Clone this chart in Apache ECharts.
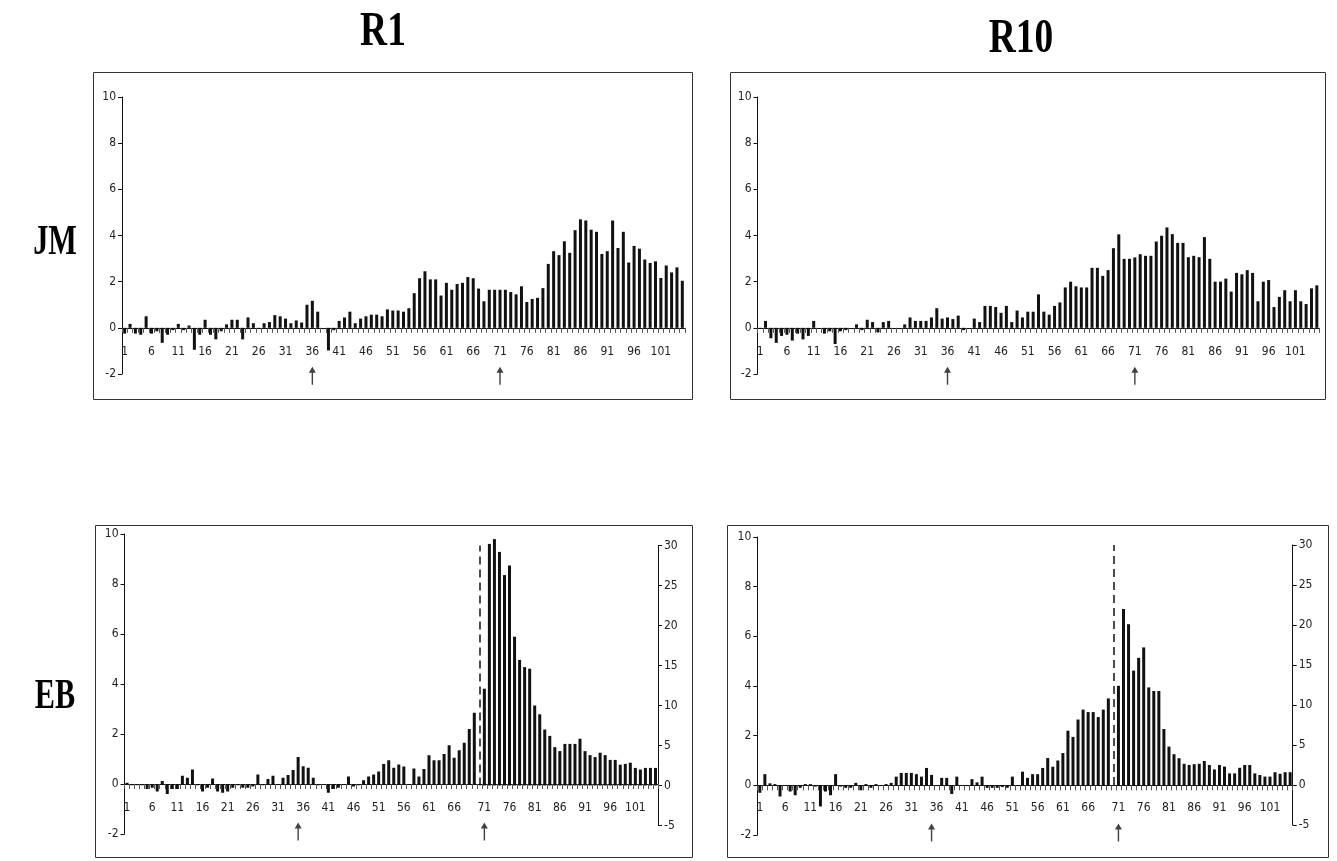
<!DOCTYPE html>
<html><head><meta charset="utf-8">
<script src="https://cdn.jsdelivr.net/npm/echarts@6/dist/echarts.min.js"></script>
<style>html,body{margin:0;padding:0;background:#fff}#c{width:1337px;height:861px}</style>
</head><body><div id="c"></div>
<script>
// ---------- data ----------
const categories = ['1','2','3','4','5','6','7','8','9','10','11','12','13','14','15','16','17','18','19','20','21','22','23','24','25','26','27','28','29','30','31','32','33','34','35','36','37','38','39','40','41','42','43','44','45','46','47','48','49','50','51','52','53','54','55','56','57','58','59','60','61','62','63','64','65','66','67','68','69','70','71','72','73','74','75','76','77','78','79','80','81','82','83','84','85','86','87','88','89','90','91','92','93','94','95','96','97','98','99','100','101','102','103','104','105'];
const colTitles = ['R1','R10'];
const rowTitles = ['JM','EB'];
const leftTicks = [-2, 10, 2];   // min, max, step
const rightTicks = [-5, 30, 5];

const jmR1 = [-0.25,0.17,-0.25,-0.3,0.5,-0.25,-0.15,-0.65,-0.3,-0.1,0.17,-0.1,0.1,-0.95,-0.3,0.35,-0.3,-0.5,-0.15,0.15,
0.35,0.35,-0.5,0.45,0.2,-0.05,0.2,0.25,0.55,0.5,0.4,0.2,0.32,0.23,1.0,1.17,0.7,0,-0.98,-0.1,
0.3,0.45,0.7,0.2,0.4,0.5,0.57,0.57,0.5,0.8,0.75,0.75,0.7,0.85,1.5,2.15,2.45,2.1,2.1,1.4,
1.95,1.65,1.9,1.95,2.2,2.15,1.7,1.15,1.65,1.65,1.65,1.65,1.55,1.45,1.8,1.12,1.25,1.3,1.72,2.77,
3.32,3.15,3.75,3.25,4.23,4.7,4.65,4.25,4.16,3.2,3.32,4.65,3.46,4.16,2.83,3.55,3.43,2.96,2.81,2.88,
2.16,2.7,2.4,2.62,2.04];

const jmR10 = [-0.05,0.3,-0.45,-0.65,-0.35,-0.3,-0.55,-0.25,-0.5,-0.35,0.3,0,-0.25,-0.15,-0.7,-0.15,-0.1,0,0.15,-0.1,
0.35,0.25,-0.2,0.25,0.3,0,0,0.15,0.45,0.3,0.3,0.3,0.45,0.85,0.4,0.45,0.38,0.53,-0.1,0,
0.4,0.25,0.95,0.95,0.9,0.65,0.95,0.25,0.75,0.45,0.7,0.7,1.45,0.7,0.57,0.95,1.1,1.75,2.0,1.8,
1.75,1.75,2.6,2.6,2.25,2.5,3.45,4.05,2.99,2.99,3.05,3.19,3.12,3.12,3.74,3.99,4.35,4.06,3.68,3.68,
3.06,3.12,3.06,3.93,2.99,2.0,2.0,2.13,1.57,2.38,2.32,2.5,2.38,1.15,2.0,2.07,0.9,1.34,1.63,1.15,
1.63,1.15,1.03,1.71,1.84];

// EB: categories 1-70 on the left axis, 71-105 on the right axis
const ebR1Left = [0.05,-0.05,-0.05,-0.05,-0.2,-0.15,-0.3,0.12,-0.4,-0.2,-0.2,0.33,0.25,0.58,-0.05,-0.3,-0.15,0.22,-0.3,-0.35,
-0.3,-0.15,-0.05,-0.15,-0.15,-0.1,0.38,-0.05,0.2,0.33,0,0.25,0.36,0.56,1.08,0.71,0.65,0.25,-0.05,0,
-0.35,-0.2,-0.15,0,0.3,-0.1,-0.05,0.15,0.3,0.38,0.5,0.8,0.95,0.65,0.78,0.7,0,0.62,0.3,0.6,
1.15,0.95,0.95,1.2,1.55,1.05,1.35,1.65,2.2,2.85];
const ebR1Right = [12.1,30.2,30.8,29.2,26.3,27.5,18.6,15.7,14.8,14.6,10.0,8.9,7.0,6.2,4.8,4.3,5.2,5.2,5.2,5.85,
4.3,3.8,3.55,4.1,3.8,3.2,3.2,2.6,2.7,2.85,2.2,2.0,2.2,2.2,2.2];

const ebR10Left = [-0.3,0.45,0.08,0.05,-0.45,0,-0.25,-0.4,-0.1,0.05,0.05,-0.05,-0.85,-0.25,-0.4,0.45,-0.05,-0.1,-0.1,0.1,
-0.2,0.05,-0.1,0.05,0,0.05,0.1,0.35,0.5,0.5,0.5,0.45,0.35,0.7,0.42,0,0.3,0.3,-0.35,0.35,
0,-0.03,0.25,0.12,0.35,-0.1,-0.1,-0.1,-0.07,-0.1,0.35,0,0.55,0.3,0.45,0.45,0.7,1.1,0.75,1.0,
1.3,2.2,1.95,2.65,3.05,2.95,2.95,2.75,3.05,3.5];
const ebR10Right = [12.4,22.0,20.1,14.3,15.9,17.2,12.2,11.75,11.75,7.0,4.8,3.85,3.35,2.65,2.5,2.6,2.65,3.0,2.5,1.95,
2.5,2.3,1.45,1.45,2.15,2.5,2.5,1.45,1.25,1.05,1.05,1.6,1.4,1.6,1.6];

const arrowCatsJM = ['36','71'];
const arrowCatsEB = ['35','71'];
const arrowLevelJM = -2.08;
const arrowLevelEB = -1.9;
const splitAfter = '70';   // dashed separator slot sits after this category

// ---------- build ----------
const splitIdx = categories.indexOf(splitAfter) + 1;
const ebCats = [...categories.slice(0, splitIdx), '', ...categories.slice(splitIdx)];
const nEB = ebCats.length;
const padR = (arr) => arr.concat(new Array(nEB - arr.length).fill('-'));
const padL = (arr) => new Array(nEB - arr.length).fill('-').concat(arr);

const labelFont = "'Liberation Sans Narrow','Arial Narrow','DejaVu Sans Condensed','Liberation Sans',sans-serif";
const titleFont = "'Liberation Serif','Times New Roman',serif";
const ink = '#111';

const grids = [
  {left:122, top:97, width:563, height:277},
  {left:757.5, top:97, width:562, height:277},
  {left:124.5, top:534, width:533.5, height:300},
  {left:124.5, top:545.5, width:533.5, height:280},
  {left:757.3, top:537, width:535.4, height:298},
  {left:757.3, top:545, width:535.4, height:280}
];

function xAx(gi, data, show, ebStyle, lblMargin) {
  return {
    type:'category', gridIndex:gi, data:data, show:show,
    axisLine:{onZero:true, lineStyle:{color:ink, width:1}},
    axisTick:{show:true, interval:0, length:5, lineStyle:{color:'#555'}},
    axisLabel:{
      interval: ebStyle ? function(i, v){ return v !== '' && (parseInt(v,10)-1) % 5 === 0; } : 4,
      margin:lblMargin, fontSize:12, color:'#222', fontFamily:labelFont
    },
    splitLine:{show:false}
  };
}
function yAx(gi, ticks, pos) {
  return {
    type:'value', gridIndex:gi, position:pos, min:ticks[0], max:ticks[1], interval:ticks[2],
    axisLine:{show:true, lineStyle:{color:ink, width:1}},
    axisTick:{show:true, length:4, lineStyle:{color:ink}},
    axisLabel:{fontSize:12, color:'#222', fontFamily:labelFont, margin:6},
    splitLine:{show:false}
  };
}

const barBase = {type:'bar', barWidth:3, itemStyle:{color:ink}, silent:true, animation:false, clip:false};
const arrowSym = 'path://M5 0 L10 8 L6 8 L6 24 L4 24 L4 8 L0 8 Z';
function arrows(gi, cats, level) {
  return {type:'scatter', xAxisIndex:gi, yAxisIndex:gi, clip:false, silent:true,
    symbol:arrowSym, symbolSize:[7,18], itemStyle:{color:ink},
    data: cats.map(c => [c, level])};
}
function sepLine() {
  return {silent:true, symbol:['none','none'], label:{show:false},
    lineStyle:{color:ink, type:[8,5], width:1.5},
    data:[[{coord:[splitIdx, 0]}, {coord:[splitIdx, rightTicks[1]]}]]};
}
function title(txt, x, y, size, sx) {
  return {type:'text', x:x, y:y, scaleX:sx, silent:true,
    style:{text:txt, fill:'#000', font:'bold ' + size + 'px ' + titleFont,
      align:'center', verticalAlign:'middle', textAlign:'center', textVerticalAlign:'middle'}};
}

const option = {
  animation:false,
  backgroundColor:'#fff',
  grid: grids,
  xAxis: [
    xAx(0, categories, true, false, -28),
    xAx(1, categories, true, false, -28),
    xAx(2, ebCats, true, true, -32),
    xAx(3, ebCats, false, true, 0),
    xAx(4, ebCats, true, true, -33),
    xAx(5, ebCats, false, true, 0)
  ],
  yAxis: [
    yAx(0, leftTicks, 'left'),
    yAx(1, leftTicks, 'left'),
    yAx(2, leftTicks, 'left'),
    yAx(3, rightTicks, 'right'),
    yAx(4, leftTicks, 'left'),
    yAx(5, rightTicks, 'right')
  ],
  series: [
    Object.assign({}, barBase, {xAxisIndex:0, yAxisIndex:0, data:jmR1}),
    Object.assign({}, barBase, {xAxisIndex:1, yAxisIndex:1, data:jmR10}),
    Object.assign({}, barBase, {xAxisIndex:2, yAxisIndex:2, data:padR(ebR1Left)}),
    Object.assign({}, barBase, {xAxisIndex:3, yAxisIndex:3, data:padL(ebR1Right), markLine:sepLine()}),
    Object.assign({}, barBase, {xAxisIndex:4, yAxisIndex:4, data:padR(ebR10Left)}),
    Object.assign({}, barBase, {xAxisIndex:5, yAxisIndex:5, data:padL(ebR10Right), markLine:sepLine()}),
    arrows(0, arrowCatsJM, arrowLevelJM),
    arrows(1, arrowCatsJM, arrowLevelJM),
    arrows(2, arrowCatsEB, arrowLevelEB),
    arrows(4, arrowCatsEB, arrowLevelEB)
  ],
  graphic: [
    {type:'rect', shape:{x:93.5, y:72.5, width:599, height:327}, style:{fill:'none', stroke:'#333', lineWidth:1}, silent:true},
    {type:'rect', shape:{x:730.5, y:72.5, width:595, height:327}, style:{fill:'none', stroke:'#333', lineWidth:1}, silent:true},
    {type:'rect', shape:{x:95.5, y:525.5, width:597, height:332}, style:{fill:'none', stroke:'#333', lineWidth:1}, silent:true},
    {type:'rect', shape:{x:727.5, y:525.5, width:601, height:332}, style:{fill:'none', stroke:'#333', lineWidth:1}, silent:true},
    title(colTitles[0], 383, 33, 48, 0.78),
    title(colTitles[1], 1021, 40, 48, 0.78),
    title(rowTitles[0], 55, 243, 42, 0.72),
    title(rowTitles[1], 55, 697, 42, 0.72)
  ]
};

const chart = echarts.init(document.getElementById('c'), null, {renderer:'canvas'});
chart.setOption(option);
</script>
</body></html>
